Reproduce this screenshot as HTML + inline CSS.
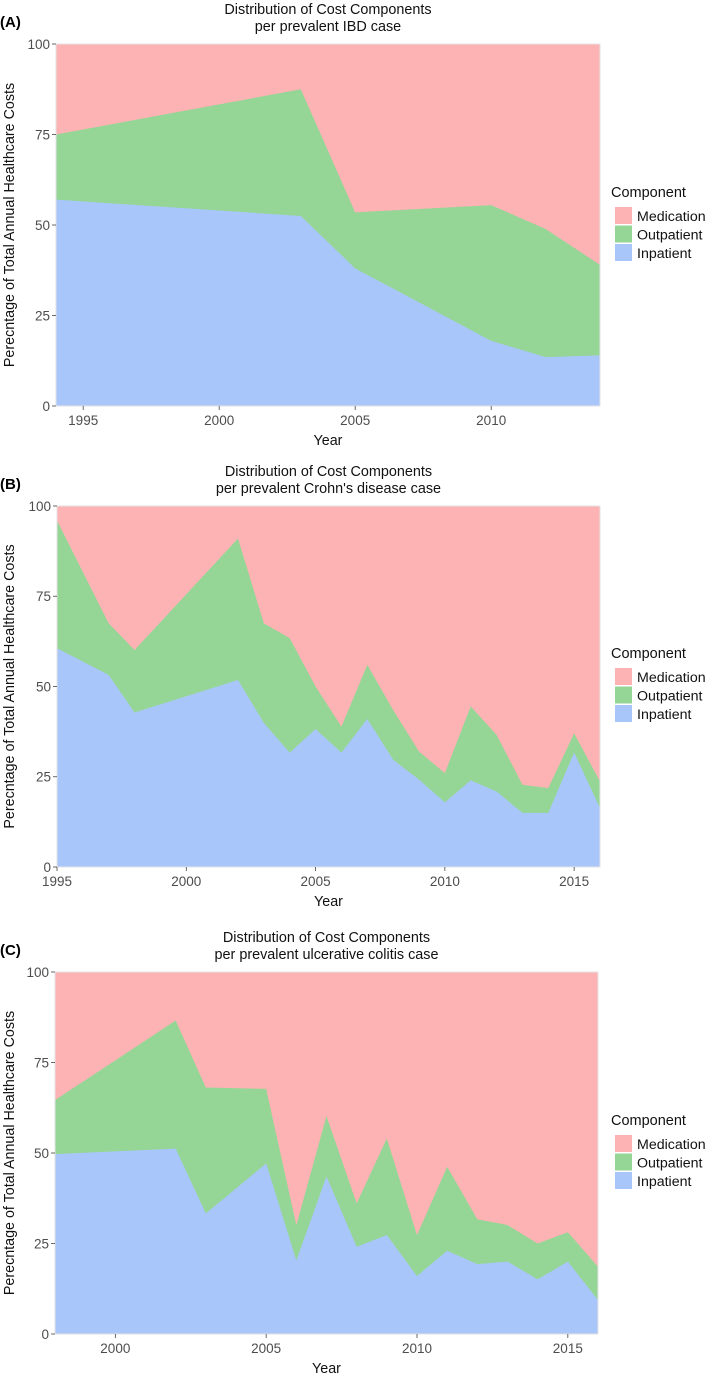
<!DOCTYPE html>
<html><head><meta charset="utf-8"><style>
body{margin:0;background:#fff;width:709px;height:1378px;overflow:hidden;font-family:"Liberation Sans",sans-serif}
svg{position:absolute;left:0;top:0}
</style></head><body>
<svg id="chart" width="709" height="1378" viewBox="0 0 709 1378"></svg>
<script>
// Panel A (IBD)
const yearsA = [1994, 2003, 2005, 2010, 2012, 2014];
const inpatientA = [57, 52.5, 38, 18, 13.5, 14];
const outpatientA = [18, 35, 15.5, 37.5, 35.4, 25];
const xTicksA = [1995, 2000, 2005, 2010];
// Panel B (Crohn's)
const yearsB = [1995, 1997, 1998, 2002, 2003, 2004, 2005, 2006, 2007, 2008, 2009, 2010, 2011, 2012, 2013, 2014, 2015, 2016];
const inpatientB = [60.6, 53.2, 42.8, 51.8, 39.9, 31.7, 38.2, 31.7, 41, 29.7, 24.2, 17.9, 24, 20.9, 15, 15, 31.7, 16.3];
const outpatientB = [35.4, 14.3, 17.3, 39.2, 27.6, 31.7, 11.8, 7.2, 15, 13.8, 7.8, 8.1, 20.5, 15.7, 7.8, 6.9, 5.3, 7.4];
const xTicksB = [1995, 2000, 2005, 2010, 2015];
// Panel C (UC)
const yearsC = [1998, 2002, 2003, 2005, 2006, 2007, 2008, 2009, 2010, 2011, 2012, 2013, 2014, 2015, 2016];
const inpatientC = [49.7, 51.2, 33.3, 47.1, 20.3, 43.5, 24.1, 27.3, 16, 23, 19.3, 20, 15.1, 20, 9.4];
const outpatientC = [14.9, 35.4, 34.8, 20.6, 9.8, 16.7, 12, 26.7, 11.3, 23.2, 12.4, 10.1, 9.9, 8.1, 9.2];
const xTicksC = [2000, 2005, 2010, 2015];
const yTicks = [0, 25, 50, 75, 100];

const NS = "http://www.w3.org/2000/svg";
const svg = document.getElementById('chart');
const COL = {med:'#fdb2b4', out:'#95d697', inp:'#a9c6fa'};
function mk(tag, attrs, parent, text){
  const e = document.createElementNS(NS, tag);
  for (const k in attrs) e.setAttribute(k, attrs[k]);
  if (text !== undefined) e.textContent = text;
  (parent || svg).appendChild(e);
  return e;
}
function panel(cfg, years, inp, out, xTicks){
  const g = mk('g', {});
  
  
  const L = cfg.L, R = cfg.R, T = cfg.T, B = cfg.B;
  const x = v => L + (v - cfg.x0) / (cfg.x1 - cfg.x0) * (R - L);
  const y = v => B - v / 100 * (B - T);
  const bg = mk('rect', {x:L, y:T, width:R-L, height:B-T, fill:COL.med}, g);
  
  
  let top = years.map((yr, i) => x(yr) + ',' + y(inp[i] + out[i]));
  let dOut = 'M' + x(years[0]) + ',' + B + ' L' + top.join(' L') + ' L' + x(years[years.length-1]) + ',' + B + ' Z';
  const po = mk('path', {d:dOut, fill:COL.out}, g);
  
  
  let inl = years.map((yr, i) => x(yr) + ',' + y(inp[i]));
  let dIn = 'M' + x(years[0]) + ',' + B + ' L' + inl.join(' L') + ' L' + x(years[years.length-1]) + ',' + B + ' Z';
  const pi = mk('path', {d:dIn, fill:COL.inp}, g);
  
  
  mk('rect', {x:L, y:T, width:R-L, height:B-T, fill:'none', stroke:'#e3e3e3', 'stroke-width':1}, g);
  yTicks.forEach(t => {
    mk('line', {x1:L-4, x2:L, y1:y(t), y2:y(t), stroke:'#444', 'stroke-width':0.8}, g);
    const tl = mk('text', {x:L-6, y:y(t)+4.8, 'text-anchor':'end', 'font-size':13.5, fill:'#4d4d4d'}, g, t);
    
    
  });
  xTicks.forEach(t => {
    mk('line', {x1:x(t), x2:x(t), y1:B, y2:B+4, stroke:'#444', 'stroke-width':0.8}, g);
    const tl = mk('text', {x:x(t), y:B+19, 'text-anchor':'middle', 'font-size':13.5, fill:'#4d4d4d'}, g, t);
    
    
  });
  const cx = (L + R) / 2;
  const xt = mk('text', {x:cx, y:B+39, 'text-anchor':'middle', 'font-size':14.3, fill:'#111'}, g, 'Year');
  
  
  const yt = mk('text', {x:0, y:0, 'text-anchor':'middle', 'font-size':14.3, fill:'#111', transform:'translate(14,' + (T+B)/2 + ') rotate(-90)'}, g, 'Perecntage of Total Annual Healthcare Costs');
  
  
  const t1 = mk('text', {x:cx, y:T-30, 'text-anchor':'middle', 'font-size':14.4, fill:'#111'}, g, 'Distribution of Cost Components');
  
  
  const t2 = mk('text', {x:cx, y:T-13, 'text-anchor':'middle', 'font-size':14.4, fill:'#111'}, g, cfg.sub);
  
  
  const lab = mk('text', {x:0, y:T-17, 'font-size':15, 'font-weight':'bold', fill:'#000'}, g, '(' + cfg.id + ')');
  
  
  const lg = mk('g', {}, g);
  
  
  const ly = cfg.legY;
  mk('text', {x:611, y:ly, 'font-size':14.5, fill:'#111'}, lg, 'Component');
  [['Medication', COL.med], ['Outpatient', COL.out], ['Inpatient', COL.inp]].forEach((it, i) => {
    const e = mk('g', {}, lg);
    
    
    mk('rect', {x:615, y:ly+10+i*18.5, width:17, height:17, fill:it[1]}, e);
    mk('text', {x:637, y:ly+24+i*18.5, 'font-size':14.2, fill:'#111'}, e, it[0]);
  });
}
panel({id:'A', L:56, R:600, T:44, B:406, x0:1994, x1:2014, sub:'per prevalent IBD case', legY:197}, yearsA, inpatientA, outpatientA, xTicksA);
panel({id:'B', L:57, R:600, T:506, B:867, x0:1995, x1:2016, sub:"per prevalent Crohn's disease case", legY:658}, yearsB, inpatientB, outpatientB, xTicksB);
panel({id:'C', L:55, R:598, T:972, B:1334, x0:1998, x1:2016, sub:'per prevalent ulcerative colitis case', legY:1125}, yearsC, inpatientC, outpatientC, xTicksC);
</script>
</body></html>
